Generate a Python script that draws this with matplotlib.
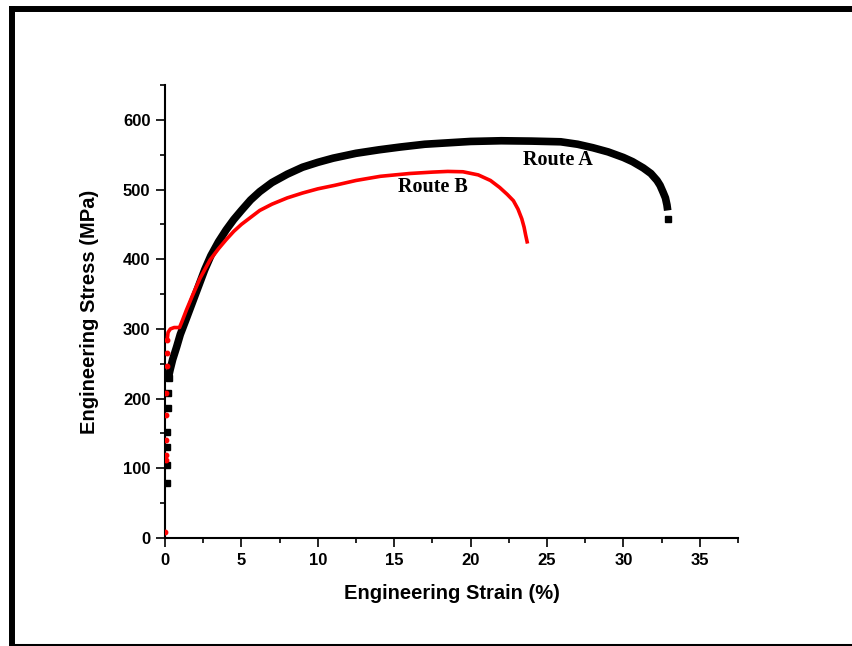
import matplotlib
matplotlib.use("Agg")
import matplotlib.pyplot as plt
from matplotlib.lines import Line2D
from matplotlib.ticker import MultipleLocator

# Route A: elastic-region samples (discrete markers) and flow curve
a_elastic_strain = [0.12, 0.14, 0.15, 0.16, 0.18, 0.20, 0.24]
a_elastic_stress = [79, 105, 131, 152, 186, 208, 230]
a_strain = [0.24, 0.33, 0.5, 0.76, 1.0, 1.4, 2.0, 2.6, 3.0, 3.5, 4.0, 4.5,
            5.0, 5.6, 6.2, 7.0, 8.0, 9.0, 10.0, 11.0, 12.5, 14.0, 15.4, 17.0,
            18.5, 20.0, 22.0, 24.0, 25.9, 27.0, 28.0, 29.0, 30.0, 30.6, 31.3,
            31.8, 32.2, 32.4, 32.6, 32.75, 32.85, 32.9]
a_stress = [232, 241, 256, 274, 292, 315, 350, 385, 405, 425, 442, 457,
            470, 485, 497, 510, 522, 532, 539, 545, 552, 557, 561, 565,
            567, 569, 570, 569.5, 568.5, 565, 560, 554, 546, 540, 531,
            523, 513, 506, 496, 488, 478, 470]
a_end_strain = [32.9]
a_end_stress = [458]

# Route B: elastic-region samples (discrete markers) and flow curve
b_elastic_strain = [0.02, 0.04, 0.05, 0.07, 0.08, 0.09, 0.10, 0.12, 0.14]
b_elastic_stress = [9, 112, 119, 141, 176, 208, 247, 265, 284]
b_strain = [0.14, 0.2, 0.35, 0.6, 0.95, 1.1, 1.4, 1.8, 2.3, 2.95, 3.5, 4.0,
            4.5, 5.0, 5.6, 6.2, 7.0, 8.0, 9.0, 10.0, 11.1, 12.5, 14.1, 16.0,
            17.5, 18.5, 19.5, 20.5, 21.3, 21.9, 22.4, 22.8, 23.1, 23.35, 23.5,
            23.6, 23.7]
b_stress = [284, 295, 300, 302, 302, 310, 327, 348, 373, 399, 415, 428,
            440, 450, 460, 470, 479, 488, 495, 501, 506, 513, 519, 523,
            525, 526, 525.5, 521, 513, 503, 493, 484, 472, 458, 446,
            435, 425]

fig = plt.figure(figsize=(8.52, 6.46), dpi=100)
ax = fig.add_axes([165 / 852, 1 - 538 / 646, (738 - 165) / 852, (538 - 85) / 646])

# Route A in black
ax.plot(a_strain, a_stress, color="black", lw=5.5, solid_capstyle="butt",
        solid_joinstyle="round", zorder=3)
ax.plot(a_elastic_strain, a_elastic_stress, ls="none", marker="s", ms=4.5,
        color="black", zorder=3)
ax.plot(a_end_strain, a_end_stress, ls="none", marker="s", ms=4.5,
        color="black", zorder=3)

# Route B in red
ax.plot(b_strain, b_stress, color="#ff0000", lw=2.6, solid_joinstyle="round",
        zorder=4)
ax.plot(b_elastic_strain, b_elastic_stress, ls="none", marker="o", ms=3.2,
        color="#ff0000", zorder=4)

ax.text(25.7, 542, "Route A", fontfamily="Liberation Serif", fontweight="bold",
        fontsize=14.5, ha="center", va="center")
ax.text(17.5, 503, "Route B", fontfamily="Liberation Serif", fontweight="bold",
        fontsize=14.5, ha="center", va="center")

ax.set_xlim(0, 37.5)
ax.set_ylim(0, 650)
ax.xaxis.set_major_locator(MultipleLocator(5))
ax.xaxis.set_minor_locator(MultipleLocator(2.5))
ax.yaxis.set_major_locator(MultipleLocator(100))
ax.yaxis.set_minor_locator(MultipleLocator(50))

for side in ("top", "right"):
    ax.spines[side].set_visible(False)
for side in ("left", "bottom"):
    ax.spines[side].set_linewidth(1.5)

ax.tick_params(which="major", direction="out", length=6.5, width=1.2, pad=4)
ax.tick_params(which="minor", direction="out", length=3.5, width=1.2)
for lbl in ax.get_xticklabels() + ax.get_yticklabels():
    lbl.set_fontfamily("Liberation Sans")
    lbl.set_fontweight("bold")
    lbl.set_fontsize(12)

ax.set_xlabel("Engineering Strain (%)", fontfamily="Liberation Sans",
              fontweight="bold", fontsize=14.5, labelpad=12)
ax.set_ylabel("Engineering Stress (MPa)", fontfamily="Liberation Sans",
              fontweight="bold", fontsize=14.5, labelpad=17)

# outer frame: heavy left and top rules, thin bottom rule
W, H = 852, 646
fig.add_artist(Line2D([12 / W, 12 / W], [0, 1 - 6 / H], color="black",
                      lw=4.3, solid_capstyle="butt", transform=fig.transFigure))
fig.add_artist(Line2D([9 / W, 1], [1 - 9 / H, 1 - 9 / H], color="black",
                      lw=4.3, solid_capstyle="butt", transform=fig.transFigure))
fig.add_artist(Line2D([9 / W, 1], [1.5 / H, 1.5 / H], color="black",
                      lw=2.2, solid_capstyle="butt", transform=fig.transFigure))

fig.savefig("out.png", dpi=100, facecolor="white")
